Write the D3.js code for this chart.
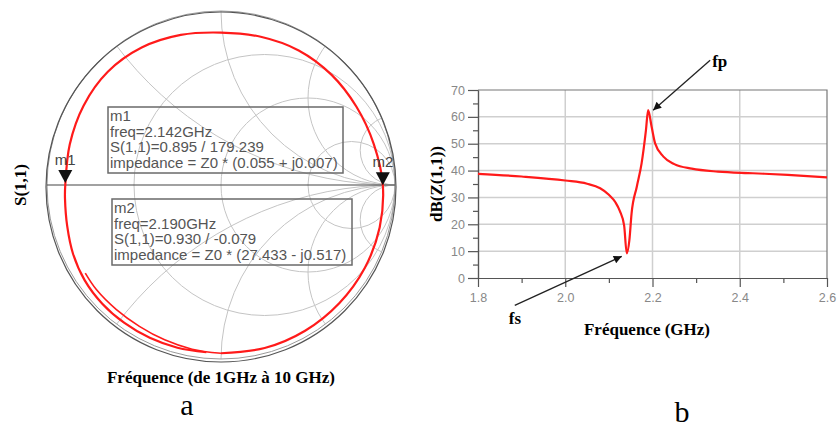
<!DOCTYPE html>
<html>
<head>
<meta charset="utf-8">
<script src="https://cdn.jsdelivr.net/npm/d3@7/dist/d3.min.js"></script>
<style>
  body { margin: 0; background: #fff; }
  svg { display: block; }
</style>
</head>
<body>
<script>
// ---- data: S(1,1) trace on the Smith chart, |S11| and phase (deg)
var traceAng = [-95, -105, -115, -125, -135, -145, -155, -165, -175, 180, 165, 150, 135, 120, 105, 90,
                75, 60, 45, 30, 15, 0, -15, -30, -45, -60, -75, -90, -100, -110, -120, -130, -140, -147];
var traceMag = [0.965, 0.968, 0.969, 0.968, 0.965, 0.956, 0.938, 0.915, 0.900, 0.895, 0.900, 0.912,
                0.920, 0.912, 0.893, 0.876, 0.882, 0.893, 0.897, 0.899, 0.909, 0.930, 0.944, 0.954,
                0.961, 0.967, 0.970, 0.967, 0.958, 0.947, 0.938, 0.935, 0.935, 0.930];
var tailStart = 27;   // index where the inner (last) segment begins

// markers
var markerNames = ["m1", "m2"];
var markerFreq  = ["2.142GHz", "2.190GHz"];
var markerMag   = [0.895, 0.930];
var markerAng   = [179.239, -0.079];
var markerZ     = ["(0.055 + j0.007)", "(27.433 - j0.517)"];

// smith grid
var gridR = [1/3, 1, 3];
var gridX = [0.5, 1, 2, 5, -0.5, -1, -2, -5];

// ---- data: dB(Z(1,1)) vs frequency
var freq = [1.80, 1.90, 2.00, 2.05, 2.08, 2.10, 2.115, 2.125, 2.135, 2.141, 2.147, 2.152, 2.164,
            2.175, 2.185, 2.190, 2.198, 2.206, 2.225, 2.25, 2.29, 2.35, 2.43, 2.51, 2.60];
var zdB  = [38.8, 37.8, 36.3, 35.1, 33.4, 31.0, 28.2, 25.0, 19.5, 9.2, 14.1, 24.0, 34.0,
            42.7, 55.1, 62.5, 56.3, 50.1, 45.2, 42.4, 40.7, 39.6, 39.0, 38.4, 37.5];
var xTicks = [1.8, 2.0, 2.2, 2.4, 2.6];
var xMinor = [1.9, 2.1, 2.3, 2.5];
var yTicks = [0, 10, 20, 30, 40, 50, 60, 70];
var yMinor = [5, 15, 25, 35, 45, 55, 65];

// ---- layout
var w = 840, h = 427;
var cx = 221, cy = 185, R = 174;
var serif = "'Liberation Serif', 'Times New Roman', serif";
var sans = "'Liberation Sans', Arial, sans-serif";

var svg = d3.select("body").append("svg")
    .attr("width", w)
    .attr("height", h);

svg.append("rect").attr("width", w).attr("height", h).attr("fill", "#fff");

// ================= a : Smith chart =================
var sx = d3.scaleLinear().domain([-1, 1]).range([cx - R, cx + R]);
var sy = d3.scaleLinear().domain([-1, 1]).range([cy + R, cy - R]);
var sk = function(v) { return v * R; };

svg.append("clipPath").attr("id", "unit")
  .append("circle").attr("cx", sx(0)).attr("cy", sy(0)).attr("r", sk(1));

var grid = svg.append("g").attr("clip-path", "url(#unit)")
    .attr("fill", "none").attr("stroke", "#c4c4c4").attr("stroke-width", 1);

grid.selectAll("circle.r").data(gridR).enter().append("circle")
    .attr("class", "r")
    .attr("cx", function(d) { return sx(d / (d + 1)); })
    .attr("cy", sy(0))
    .attr("r", function(d) { return sk(1 / (d + 1)); });

grid.selectAll("circle.x").data(gridX).enter().append("circle")
    .attr("class", "x")
    .attr("cx", sx(1))
    .attr("cy", function(d) { return sy(1 / d); })
    .attr("r", function(d) { return sk(1 / Math.abs(d)); });

// unit circle + outer rim
svg.append("circle").attr("cx", sx(0)).attr("cy", sy(0)).attr("r", sk(1))
   .attr("fill", "none").attr("stroke", "#9a9a9a").attr("stroke-width", 1);
svg.append("circle").attr("cx", sx(0)).attr("cy", sy(0) + 2).attr("r", sk(1) + 1)
   .attr("fill", "none").attr("stroke", "#555").attr("stroke-width", 1.2);

// real axis
svg.append("line")
   .attr("x1", sx(-1)).attr("x2", sx(1))
   .attr("y1", sy(0)).attr("y2", sy(0))
   .attr("stroke", "#444").attr("stroke-width", 1.2);

// trace
var trace = traceAng.map(function(a, i) {
  var t = a * Math.PI / 180;
  return [traceMag[i] * Math.cos(t), traceMag[i] * Math.sin(t)];
});
var smithLine = d3.line()
    .x(function(d) { return sx(d[0]); })
    .y(function(d) { return sy(d[1]); })
    .curve(d3.curveCatmullRom);

svg.append("path").datum(trace.slice(0, tailStart + 1))
   .attr("d", smithLine)
   .attr("fill", "none").attr("stroke", "#ff1a1a").attr("stroke-width", 2.2);
svg.append("path").datum(trace.slice(tailStart))
   .attr("d", smithLine)
   .attr("fill", "none").attr("stroke", "#ff1a1a").attr("stroke-width", 1.6);

// marker triangles
var mk = svg.selectAll("g.marker").data(markerNames).enter().append("g")
    .attr("class", "marker")
    .attr("transform", function(d, i) {
      var a = markerAng[i] * Math.PI / 180;
      return "translate(" + sx(markerMag[i] * Math.cos(a)) + "," + sy(markerMag[i] * Math.sin(a)) + ")";
    });
mk.append("path").attr("d", "M0,0 L-7,-13 L7,-13 Z").attr("fill", "#111");
mk.append("text").attr("x", 0).attr("y", -18)
  .attr("text-anchor", "middle")
  .style("font-family", sans).style("font-size", "15px").attr("fill", "#444")
  .text(function(d) { return d; });

// marker readout boxes
var boxX = [108, 112], boxY = [107, 199];
var box = svg.selectAll("g.readout").data(markerNames).enter().append("g")
    .attr("class", "readout")
    .attr("transform", function(d, i) { return "translate(" + boxX[i] + "," + boxY[i] + ")"; });
box.append("rect")
   .attr("width", function(d, i) { return i ? 240 : 235; })
   .attr("height", 66)
   .attr("fill", "none").attr("stroke", "#6a6a6a").attr("stroke-width", 1.5);
box.each(function(d, i) {
  var lines = [d,
               "freq=" + markerFreq[i],
               "S(1,1)=" + markerMag[i].toFixed(3) + " / " + markerAng[i],
               "impedance = Z0 * " + markerZ[i]];
  d3.select(this).selectAll("text").data(lines).enter().append("text")
    .attr("x", 2)
    .attr("y", function(t, j) { return 14 + j * 15.6; })
    .style("font-family", sans).style("font-size", "15px").attr("fill", "#555")
    .text(function(t) { return t; });
});

// axis titles
svg.append("text")
   .attr("transform", "translate(26," + cy + ") rotate(-90)")
   .attr("text-anchor", "middle")
   .style("font-family", serif).style("font-weight", "bold").style("font-size", "17px")
   .text("S(1,1)");
svg.append("text")
   .attr("x", cx).attr("y", 383)
   .attr("text-anchor", "middle")
   .style("font-family", serif).style("font-weight", "bold").style("font-size", "17px")
   .text("Fréquence (de 1GHz à 10 GHz)");
svg.append("text")
   .attr("x", 187).attr("y", 415)
   .attr("text-anchor", "middle")
   .style("font-family", serif).style("font-size", "30px")
   .text("a");

// ================= b : dB(Z(1,1)) =================
var x = d3.scaleLinear().domain([1.8, 2.6]).range([478, 827]);
var y = d3.scaleLinear().domain([0, 70]).range([278, 90]);

var plot = svg.append("g");

// grid
plot.selectAll("line.hg").data(yTicks.slice(1, -1)).enter().append("line")
    .attr("x1", x(1.8)).attr("x2", x(2.6))
    .attr("y1", y).attr("y2", y)
    .attr("stroke", "#cfcfcf").attr("stroke-width", 1.5);
plot.selectAll("line.vg").data(xTicks.slice(1, -1)).enter().append("line")
    .attr("x1", x).attr("x2", x)
    .attr("y1", y(0)).attr("y2", y(70))
    .attr("stroke", "#cfcfcf").attr("stroke-width", 1.5);

// frame top/right
plot.append("path")
    .attr("d", "M" + x(1.8) + "," + y(70) + "H" + x(2.6) + "V" + y(0))
    .attr("fill", "none").attr("stroke", "#777").attr("stroke-width", 1.2);

// axes
function styleAxis(g) {
  g.select(".domain").attr("stroke", "#555").attr("stroke-width", 1.2);
  g.selectAll(".tick line").attr("stroke", "#555").attr("stroke-width", 1.2);
  g.selectAll(".tick text")
   .style("font-family", sans).style("font-size", "12.5px").attr("fill", "#888");
}
plot.append("g").attr("transform", "translate(0," + y(0) + ")")
    .call(d3.axisBottom(x).tickValues(xMinor).tickSize(5).tickFormat("").tickSizeOuter(0))
    .call(styleAxis);
plot.append("g").attr("transform", "translate(0," + y(0) + ")")
    .call(d3.axisBottom(x).tickValues(xTicks).tickSize(9).tickPadding(6).tickFormat(d3.format(".1f")).tickSizeOuter(0))
    .call(styleAxis);
plot.append("g").attr("transform", "translate(" + x(1.8) + ",0)")
    .call(d3.axisLeft(y).tickValues(yMinor).tickSize(5).tickFormat("").tickSizeOuter(0))
    .call(styleAxis);
plot.append("g").attr("transform", "translate(" + x(1.8) + ",0)")
    .call(d3.axisLeft(y).tickValues(yTicks).tickSize(10).tickPadding(3).tickSizeOuter(0))
    .call(styleAxis);

// curve
var zLine = d3.line()
    .x(function(d, i) { return x(freq[i]); })
    .y(function(d) { return y(d); })
    .curve(d3.curveMonotoneX);
plot.append("path").datum(zdB)
    .attr("d", zLine)
    .attr("fill", "none").attr("stroke", "#ff1a1a").attr("stroke-width", 2.2);

// annotations fp / fs
svg.append("defs").append("marker")
   .attr("id", "head").attr("viewBox", "0 0 10 10")
   .attr("refX", 10).attr("refY", 5)
   .attr("markerWidth", 10).attr("markerHeight", 8)
   .attr("markerUnits", "userSpaceOnUse")
   .attr("orient", "auto")
   .append("path").attr("d", "M0,0 L10,5 L0,10 Z").attr("fill", "#111");

var iPeak = d3.maxIndex(zdB), iDip = d3.minIndex(zdB);
var px = x(freq[iPeak]), py = y(zdB[iPeak]);
var dx = x(freq[iDip]), dy = y(zdB[iDip]);

svg.append("line")
   .attr("x1", px + 62).attr("y1", py - 50)
   .attr("x2", px + 5).attr("y2", py)
   .attr("stroke", "#222").attr("stroke-width", 1.3)
   .attr("marker-end", "url(#head)");
svg.append("line")
   .attr("x1", dx - 112).attr("y1", dy + 52)
   .attr("x2", dx - 5).attr("y2", dy + 3)
   .attr("stroke", "#222").attr("stroke-width", 1.3)
   .attr("marker-end", "url(#head)");

svg.append("text").attr("x", px + 64).attr("y", py - 43)
   .style("font-family", serif).style("font-weight", "bold").style("font-size", "17px")
   .text("fp");
svg.append("text").attr("x", dx - 118).attr("y", dy + 71)
   .style("font-family", serif).style("font-weight", "bold").style("font-size", "17px")
   .text("fs");

svg.append("text")
   .attr("transform", "translate(442," + y(35) + ") rotate(-90)")
   .attr("text-anchor", "middle")
   .style("font-family", serif).style("font-weight", "bold").style("font-size", "17px")
   .text("dB(Z(1,1))");
svg.append("text")
   .attr("x", 647).attr("y", 335)
   .attr("text-anchor", "middle")
   .style("font-family", serif).style("font-weight", "bold").style("font-size", "17px")
   .text("Fréquence (GHz)");
svg.append("text")
   .attr("x", 682).attr("y", 422)
   .attr("text-anchor", "middle")
   .style("font-family", serif).style("font-size", "30px")
   .text("b");
</script>
</body>
</html>
